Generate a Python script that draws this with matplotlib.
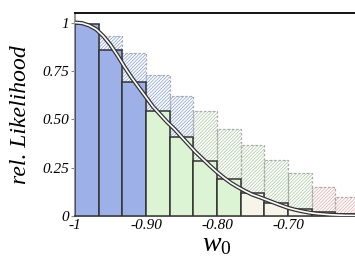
import numpy as np
import matplotlib.pyplot as plt

plt.rcParams['font.family'] = ['Liberation Serif', 'DejaVu Serif']
plt.rcParams['mathtext.fontset'] = 'custom'
plt.rcParams['mathtext.it'] = 'Liberation Serif:italic'
plt.rcParams['mathtext.rm'] = 'Liberation Serif'
plt.rcParams['hatch.linewidth'] = 0.5

# bins (width 1/30) starting at w0 = -1
bin_left = [-1.0, -0.9667, -0.9333, -0.9, -0.8667, -0.8333, -0.8, -0.7667,
            -0.7333, -0.7, -0.6667, -0.6333]
solid_h = [0.995, 0.86, 0.69, 0.54, 0.41, 0.285, 0.19, 0.12, 0.067, 0.036, 0.02, 0.01]
solid_col = ['#9db1e8'] * 3 + ['#dcf3d4'] * 4 + ['#f7f4ea'] * 3 + ['#fbeeee'] * 2
hatch_h = [0.99, 0.93, 0.84, 0.73, 0.62, 0.54, 0.45, 0.366, 0.29, 0.22, 0.15, 0.10]
hatch_col = ['#7f9ae0'] * 5 + ['#a8c9a0'] * 5 + ['#eaa8a8'] * 2

curve_w = [-1.0, -0.99, -0.98, -0.97, -0.96, -0.95, -0.94, -0.93, -0.92, -0.91,
           -0.9, -0.89, -0.88, -0.87, -0.86, -0.85, -0.84, -0.83, -0.82, -0.81,
           -0.8, -0.79, -0.78, -0.77, -0.76, -0.75, -0.74, -0.73, -0.72, -0.71,
           -0.7, -0.69, -0.68, -0.67, -0.66, -0.65, -0.64, -0.62, -0.6]
curve_l = [1.0, 0.997, 0.985, 0.965, 0.93, 0.885, 0.83, 0.77, 0.715, 0.665,
           0.615, 0.565, 0.525, 0.485, 0.45, 0.41, 0.37, 0.33, 0.295, 0.26,
           0.227, 0.197, 0.17, 0.148, 0.128, 0.11, 0.097, 0.083, 0.069, 0.055,
           0.042, 0.032, 0.024, 0.017, 0.012, 0.009, 0.006, 0.003, 0.002]

xticks = [-1.0, -0.9, -0.8, -0.7]
xtick_labels = ['-1', '-0.90', '-0.80', '-0.70']
yticks = [0, 0.25, 0.5, 0.75, 1.0]
ytick_labels = ['0', '0.25', '0.50', '0.75', '1']

bw = 1 / 30
fig = plt.figure(figsize=(3.55, 2.74), dpi=100)
ax = fig.add_axes([0.211, 0.212, 0.80, 0.741])

# hatched (wider prior) bars
ax.bar(bin_left, hatch_h, width=bw, align='edge', color='white',
       edgecolor=hatch_col, hatch='//////////', linewidth=0, zorder=1)
ax.bar(bin_left, hatch_h, width=bw, align='edge', fill=False,
       edgecolor='#aaaaaa', linestyle=(0, (2, 1.5)), linewidth=0.9, zorder=2)
# solid bars
ax.bar(bin_left, solid_h, width=bw, align='edge', color=solid_col,
       edgecolor='#333333', linewidth=1.1, zorder=3)

ax.plot(curve_w, curve_l, color='#333333', lw=3.0, zorder=4, solid_capstyle='butt')
ax.plot(curve_w, curve_l, color='white', lw=1.2, zorder=5, solid_capstyle='butt')

ax.set_xlim(-1.0, -0.6)
ax.set_ylim(0, 1.05)
ax.set_xticks(xticks)
ax.set_xticklabels(xtick_labels, fontstyle='italic', fontsize=11)
ax.set_yticks(yticks)
ax.set_yticklabels(ytick_labels, fontstyle='italic', fontsize=11)
ax.tick_params(axis='x', length=0, pad=2)
ax.tick_params(axis='y', length=3, width=0.8, color='#888888', pad=1)

ax.spines['right'].set_visible(False)
ax.spines['left'].set_color('#999999')
ax.spines['left'].set_linewidth(1.5)
ax.spines['top'].set_linewidth(1.3)
ax.spines['bottom'].set_linewidth(1.2)
ax.spines['bottom'].set_color('#333333')

ax.set_ylabel('rel. Likelihood', fontstyle='italic', fontsize=17, labelpad=8)
ax.set_xlabel(r'$w_{\mathit{0}}$', fontsize=20, labelpad=0)

fig.savefig('out.png', dpi=100)
